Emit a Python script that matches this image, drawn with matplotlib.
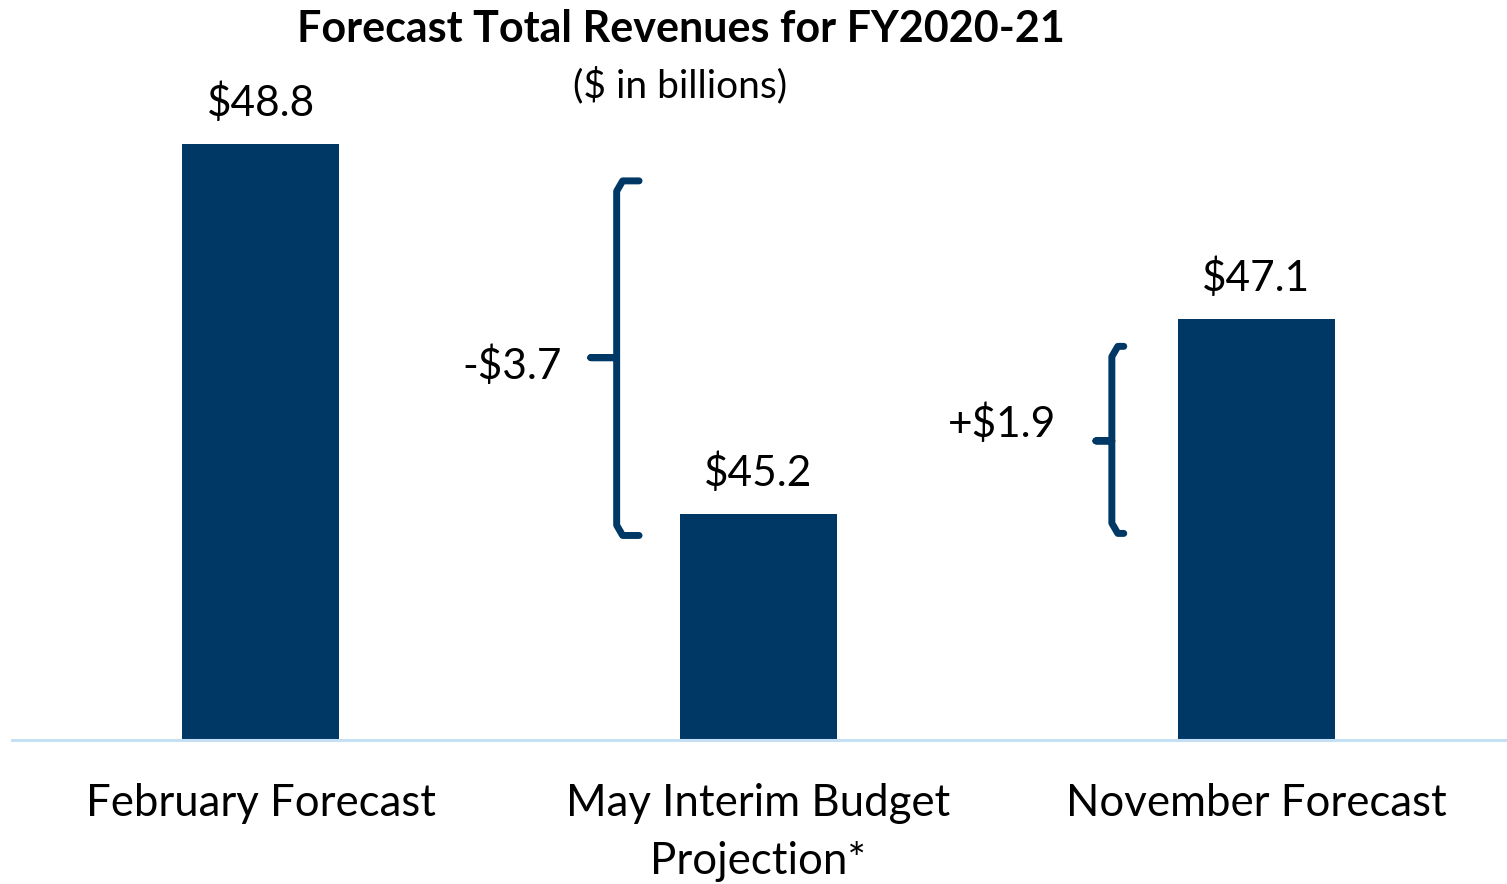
import matplotlib
matplotlib.use("Agg")
import matplotlib.pyplot as plt
import numpy as np

categories = ["February Forecast", "May Interim Budget\nProjection*", "November Forecast"]
values = [48.8, 45.2, 47.1]
value_labels = ["$48.8", "$45.2", "$47.1"]
change_labels = ["-$3.7", "+$1.9"]

BAR = "#003865"
AXIS = "#C5E0F4"
FONT = ["Lato", "DejaVu Sans"]
plt.rcParams["font.family"] = FONT

W, H = 1507, 884
fig = plt.figure(figsize=(W / 100, H / 100), dpi=100)
ax = fig.add_axes([12 / W, (H - 740) / H, (1505 - 12) / W, 740 / H])
x = np.arange(len(values))
ax.bar(x, values, width=0.315, color=BAR, zorder=2)
ax.set_xlim(-0.5, 2.5)
ax.set_ylim(43.0, 50.2)
for s in ["top", "right", "left"]:
    ax.spines[s].set_visible(False)
ax.spines["bottom"].set_color(AXIS)
ax.spines["bottom"].set_linewidth(2.2)
ax.set_yticks([])
ax.set_xticks(x)
ax.set_xticklabels(categories, fontsize=31.5, color="black", linespacing=1.5)
ax.tick_params(axis="x", length=0, pad=31)

for xi, v, lab in zip(x, values, value_labels):
    ax.text(xi, v + 0.2, lab, ha="center", va="bottom", fontsize=30.5, color="black")

def brace(ax, xv, y0, y1, ytip, xarm, xtip):
    r = 0.012
    ry = 0.1
    xs = [xarm, xv + r, xv, xv, xtip, xv, xv, xv + r, xarm]
    ys = [y1, y1, y1 - ry, ytip, ytip, ytip, y0 + ry, y0, y0]
    ax.plot(xs, ys, color=BAR, lw=5, solid_capstyle="round", solid_joinstyle="round", zorder=3)

brace(ax, 0.715, 44.99, 48.44, 46.72, 0.760, 0.663)
brace(ax, 1.710, 45.01, 46.83, 45.91, 1.734, 1.678)
ax.text(0.505, 46.64, change_labels[0], ha="center", va="center", fontsize=30.5)
ax.text(1.490, 46.08, change_labels[1], ha="center", va="center", fontsize=30.5)

fig.text(681 / W, 1 - 29 / H, "Forecast Total Revenues for FY2020-21", ha="center", va="center",
         fontsize=31, fontweight="bold")
fig.text(680 / W, 1 - 85 / H, "($ in billions)", ha="center", va="center", fontsize=28)

fig.savefig("out.png", dpi=100, facecolor="white")
